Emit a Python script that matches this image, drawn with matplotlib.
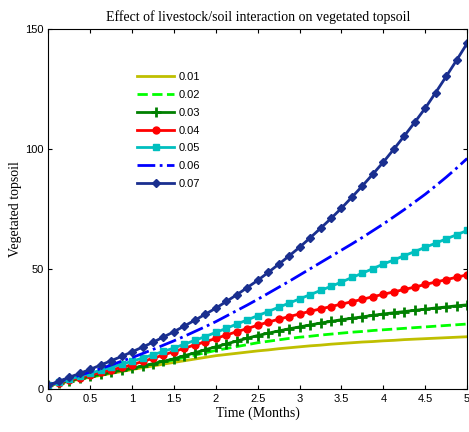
import numpy as np
import matplotlib
matplotlib.use("Agg")
import matplotlib.pyplot as plt

# time axis (months), markers every 0.125
t = np.arange(41) * 0.125

rate_labels = ['0.01', '0.02', '0.03', '0.04', '0.05', '0.06', '0.07']

topsoil_001 = [1.5, 2.3, 3.2, 4.0, 4.8, 5.6, 6.4, 7.2, 8.0, 8.8, 9.5, 10.3, 11.0, 11.7, 12.4, 13.1,
               13.8, 14.3, 14.8, 15.3, 15.8, 16.2, 16.7, 17.1, 17.5, 17.9, 18.2, 18.6, 18.9, 19.2,
               19.5, 19.7, 20.0, 20.2, 20.5, 20.7, 20.9, 21.1, 21.3, 21.5, 21.7]
topsoil_002 = [1.5, 2.4, 3.3, 4.1, 5.0, 5.9, 6.8, 7.6, 8.5, 9.4, 10.3, 11.2, 12.1, 13.1, 14.1, 15.0,
               16.0, 16.8, 17.6, 18.4, 19.2, 19.8, 20.4, 21.0, 21.5, 21.9, 22.4, 22.8, 23.2, 23.6,
               23.9, 24.3, 24.6, 24.9, 25.2, 25.5, 25.8, 26.1, 26.4, 26.7, 27.0]
topsoil_003 = [1.5, 2.4, 3.3, 4.3, 5.2, 6.0, 6.8, 7.7, 8.5, 9.5, 10.5, 11.5, 12.5, 13.8, 15.0, 16.3,
               17.5, 18.7, 19.9, 21.1, 22.2, 23.2, 24.1, 25.0, 25.8, 26.6, 27.4, 28.1, 28.8, 29.4,
               30.0, 30.6, 31.2, 31.7, 32.2, 32.7, 33.2, 33.7, 34.1, 34.6, 35.0]
topsoil_004 = [1.5, 2.6, 3.7, 4.7, 5.8, 6.8, 7.9, 8.9, 10.0, 11.4, 12.7, 14.1, 15.5, 16.9, 18.3, 19.6,
               21.0, 22.4, 23.8, 25.1, 26.5, 27.8, 29.0, 30.1, 31.2, 32.3, 33.3, 34.3, 35.3, 36.3,
               37.3, 38.4, 39.4, 40.4, 41.4, 42.4, 43.5, 44.5, 45.5, 46.5, 47.5]
topsoil_005 = [1.5, 2.7, 4.0, 5.2, 6.5, 7.7, 9.0, 10.2, 11.5, 12.8, 14.2, 15.6, 17.0, 18.6, 20.2, 21.8,
               23.5, 25.2, 27.0, 28.7, 30.5, 32.2, 34.0, 35.7, 37.5, 39.2, 41.0, 42.7, 44.5, 46.4,
               48.2, 50.1, 52.0, 53.7, 55.5, 57.2, 59.0, 60.7, 62.5, 64.2, 66.0]
topsoil_006 = [1.5, 2.9, 4.3, 5.6, 7.0, 8.4, 9.9, 11.5, 13.0, 14.7, 16.4, 18.2, 20.0, 21.9, 23.9, 25.9,
               28.0, 30.3, 32.6, 34.9, 37.3, 39.8, 42.3, 44.8, 47.4, 50.0, 52.6, 55.2, 57.8, 60.4,
               63.1, 65.9, 68.7, 71.7, 74.7, 77.9, 81.1, 84.6, 88.2, 92.0, 96.0]
topsoil_007 = [1.5, 3.1, 4.8, 6.4, 8.1, 9.9, 11.7, 13.5, 15.4, 17.4, 19.4, 21.6, 23.8, 26.2, 28.6, 31.1,
               33.6, 36.4, 39.2, 42.2, 45.2, 48.5, 51.9, 55.4, 59.0, 62.9, 66.9, 71.0, 75.3, 79.9,
               84.6, 89.5, 94.5, 99.9, 105.4, 111.1, 117.0, 123.5, 130.2, 137.0, 144.0]

series = [topsoil_001, topsoil_002, topsoil_003, topsoil_004, topsoil_005, topsoil_006, topsoil_007]
styles = [
    dict(color='#bfbf00', linestyle='-', marker=None),
    dict(color='#00ff00', linestyle='--', marker=None),
    dict(color='#008000', linestyle='-', marker='+', markersize=7, markeredgewidth=2),
    dict(color='#ff0000', linestyle='-', marker='o', markersize=5),
    dict(color='#00bfbf', linestyle='-', marker='s', markersize=5),
    dict(color='#0000ff', linestyle='-.', marker=None),
    dict(color='#1a2f8f', linestyle='-', marker='D', markersize=4),
]

fig = plt.figure(figsize=(4.69, 4.32), dpi=100)
ax = fig.add_axes([0.103, 0.1, 0.893, 0.833])

for y, lab, st in zip(series, rate_labels, styles):
    ax.plot(t, y, linewidth=2, label=lab, **st)

ax.set_xlim(0, 5)
ax.set_ylim(0, 150)
ax.set_xticks(np.arange(0, 5.01, 0.5))
ax.set_xticklabels(['0', '0.5', '1', '1.5', '2', '2.5', '3', '3.5', '4', '4.5', '5'])
ax.set_yticks([0, 50, 100, 150])
ax.tick_params(direction='in', top=True, right=True, labelsize=8, length=3)
for lbl in ax.get_xticklabels() + ax.get_yticklabels():
    lbl.set_family('Liberation Sans')

ax.set_xlabel('Time (Months)', family='Liberation Serif', fontsize=10, labelpad=2)
ax.set_ylabel('Vegetated topsoil', family='Liberation Serif', fontsize=10, labelpad=2)
ax.set_title('Effect of livestock/soil interaction on vegetated topsoil',
             family='Liberation Serif', fontsize=10, pad=6)

ax.legend(loc='upper left', bbox_to_anchor=(0.202, 0.892), frameon=False,
          prop={'family': 'Liberation Sans', 'size': 8}, handlelength=3.3,
          labelspacing=0.7, handletextpad=0.4, borderaxespad=0)

fig.savefig('out.png', dpi=100)
